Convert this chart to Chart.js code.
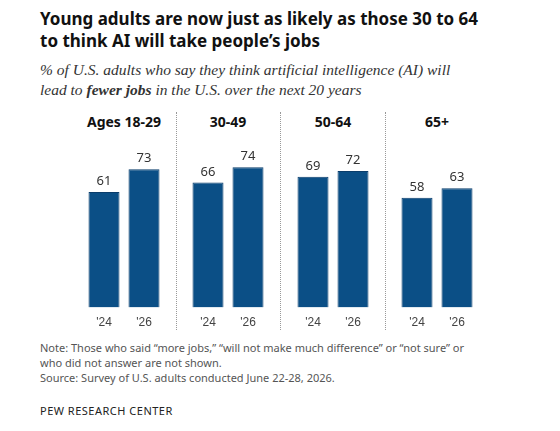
<!DOCTYPE html>
<html>
<head>
<meta charset="utf-8">
<script src="https://cdn.jsdelivr.net/npm/chart.js@4"></script>
<style>
  body { margin: 0; width: 560px; height: 431px; background: #fff; font-family: "Noto Sans", Arial, sans-serif; position: relative; overflow: hidden; }
  .title { position: absolute; left: 40px; top: 8px; font-size: 17px; font-weight: bold; line-height: 22px; color: #111; }
  .sub { position: absolute; left: 40px; top: 60px; width: 450px; font-family: "Liberation Serif", serif; font-style: italic; font-size: 15.5px; line-height: 20px; color: #333; }
  .panel { position: absolute; top: 112px; width: 104px; }
  .panel h3 { margin: 0; font-size: 14px; font-weight: bold; text-align: center; color: #111; height: 20px; line-height: 20px; }
  .panel canvas { position: absolute; top: 6px; left: 0; }
  .div { position: absolute; top: 112px; height: 218px; border-left: 1.5px dotted #999; }
  .note { position: absolute; left: 40px; top: 340px; width: 465px; font-size: 11px; line-height: 15px; color: #555; }
  .pew { position: absolute; left: 40px; top: 403px; font-size: 11px; letter-spacing: 0.5px; color: #222; }
</style>
</head>
<body>
<div class="title">Young adults are now just as likely as those 30 to 64<br>to think AI will take people’s jobs</div>
<div class="sub">% of U.S. adults who say they think artificial intelligence (AI) will<br>lead to <b>fewer jobs</b> in the U.S. over the next 20 years</div>
<div id="panels"></div>
<div class="note">Note: Those who said “more jobs,” “will not make much difference” or “not sure” or<br>who did not answer are not shown.<br>Source: Survey of U.S. adults conducted June 22-28, 2026.</div>
<div class="pew">PEW RESEARCH CENTER</div>
<script>
const groups = ["Ages 18-29", "30-49", "50-64", "65+"];
const years = ["'24", "'26"];
const values = [[61, 73], [66, 74], [69, 72], [58, 63]];

const panelLeft = [72, 176, 281, 385];
const dividers = [176, 280, 385];

const valueLabels = {
  id: "valueLabels",
  afterDatasetsDraw(chart) {
    const ctx = chart.ctx;
    ctx.save();
    ctx.fillStyle = "#333";
    ctx.font = "13px 'Noto Sans', Arial, sans-serif";
    ctx.textAlign = "center";
    ctx.textBaseline = "bottom";
    chart.getDatasetMeta(0).data.forEach((bar, i) => {
      ctx.fillText(chart.data.datasets[0].data[i], bar.x, bar.y - 4);
    });
    ctx.restore();
  }
};

const host = document.getElementById("panels");
dividers.forEach((x) => {
  const d = document.createElement("div");
  d.className = "div";
  d.style.left = x + "px";
  host.appendChild(d);
});

groups.forEach((name, g) => {
  const panel = document.createElement("div");
  panel.className = "panel";
  panel.style.left = panelLeft[g] + "px";
  panel.innerHTML = `<h3>${name}</h3><canvas width="104" height="212"></canvas>`;
  host.appendChild(panel);
  const canvas = panel.querySelector("canvas");
  canvas.style.width = "104px";
  canvas.style.height = "212px";
  new Chart(canvas, {
    type: "bar",
    data: {
      labels: years,
      datasets: [{ data: values[g], backgroundColor: "#0b4f86", borderColor: "#0a3d6b", borderWidth: 1, barPercentage: 0.775, categoryPercentage: 1 }]
    },
    options: {
      responsive: false,
      animation: false,
      layout: { padding: { left: 12, right: 12, top: 0, bottom: 0 } },
      plugins: { legend: { display: false }, tooltip: { enabled: false } },
      scales: {
        x: { grid: { display: false }, border: { display: false }, ticks: { color: "#444", font: { size: 12 }, padding: 0 } },
        y: { display: false, min: 0, max: 100 }
      }
    },
    plugins: [valueLabels]
  });
});
</script>
</body>
</html>
